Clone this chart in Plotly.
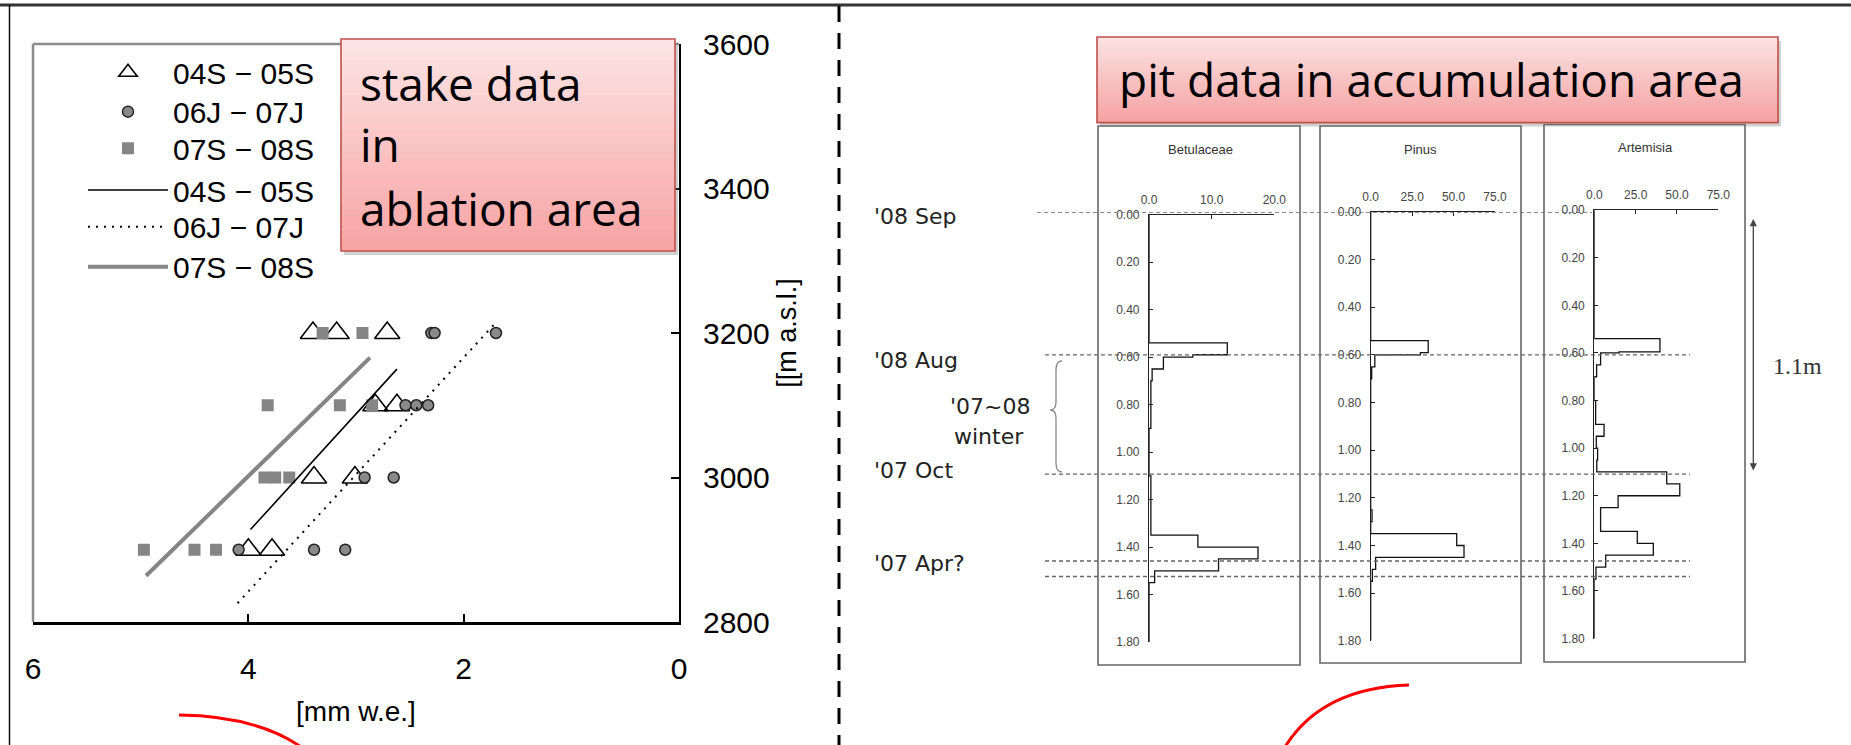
import plotly.graph_objects as go

W, H = 1851, 745

# ---------------- stake data, ablation area ----------------
# mass balance [mm w.e.] vs. elevation [m a.s.l.]
tri_mass = [3.40, 3.18, 2.71, 2.82, 2.62, 3.39, 3.01, 4.00, 3.78]
tri_elev = [3200, 3200, 3200, 3100, 3100, 3000, 3000, 2900, 2900]
circ_mass = [2.30, 2.27, 1.70, 2.54, 2.44, 2.33, 2.92, 2.65, 4.09, 3.39, 3.10]
circ_elev = [3200, 3200, 3200, 3100, 3100, 3100, 3000, 3000, 2900, 2900, 2900]
sq_mass = [3.31, 2.94, 3.82, 3.15, 2.85, 3.85, 3.75, 3.62, 4.97, 4.50, 4.30]
sq_elev = [3200, 3200, 3100, 3100, 3100, 3000, 3000, 3000, 2900, 2900, 2900]

# fitted lines (end points)
fit_0405_mass = [3.98, 2.62]
fit_0405_elev = [2928, 3150]
fit_0607_mass = [4.10, 1.71]
fit_0607_elev = [2826, 3213]
fit_0708_mass = [4.95, 2.87]
fit_0708_elev = [2864, 3166]

period_names = ["04S \u2212 05S", "06J \u2212 07J", "07S \u2212 08S"]
mass_ticks = [6, 4, 2, 0]
elev_ticks = [2800, 3000, 3200, 3400, 3600]

# ---------------- pit data, accumulation area ----------------
# pollen concentration per depth interval (top of interval [m], value)
betula_depth = [0.00, 0.54, 0.59, 0.60, 0.65, 0.70, 0.90, 1.10, 1.15, 1.35, 1.40, 1.45, 1.50, 1.55]
betula_val = [0, 12.5, 7.0, 2.3, 0.5, 0.3, 0, 0.3, 0.3, 7.8, 17.4, 11.1, 0.9, 0]
pinus_depth = [0.00, 0.54, 0.59, 0.60, 0.65, 0.70, 1.25, 1.30, 1.35, 1.40, 1.45, 1.50, 1.55]
pinus_val = [0, 34.7, 30.0, 2.5, 0.6, 0, 0.8, 0, 51.9, 56.3, 3.0, 1.0, 0]
artem_depth = [0.00, 0.54, 0.595, 0.60, 0.65, 0.70, 0.80, 0.90, 0.95, 1.00, 1.05, 1.10,
               1.15, 1.20, 1.25, 1.35, 1.40, 1.45, 1.50, 1.55]
artem_val = [0, 39.7, 15.0, 3.8, 1.4, 0, 0.8, 5.9, 1.2, 2.0, 1.5, 43.8,
             51.7, 14.4, 3.8, 26.0, 35.7, 6.9, 1.0, 0]
depth_bottom = 1.80
depth_ticks = [0.0, 0.2, 0.4, 0.6, 0.8, 1.0, 1.2, 1.4, 1.6, 1.8]
betula_ticks = [0, 10, 20]
wide_ticks = [0, 25, 50, 75]

# horizons marked across the profiles
horizon_depths = [0.00, 0.60, 1.10, 1.465, 1.53]
horizon_labels = ["'08 Sep", "'08 Aug", "'07 Oct", "'07 Apr?"]


def fx(p):
    return p / W


def fy(p):
    return 1 - p / H


def ppath(points, cmds):
    out = []
    for c, pts in zip(cmds, points):
        out.append(c + " ".join(f"{fx(x):.5f},{fy(y):.5f}" for x, y in pts))
    return " ".join(out)


AX_FONT = "Liberation Sans, Arial, sans-serif"
SMALL_FONT = "Liberation Sans Narrow, Liberation Sans, Arial, sans-serif"

fig = go.Figure()

# scatter markers
fig.add_trace(go.Scatter(
    x=tri_mass, y=tri_elev, mode="markers", name=period_names[0], legend="legend",
    marker=dict(symbol="triangle-up-open", size=22, color="black", line=dict(width=1.6, color="black")),
    xaxis="x", yaxis="y", cliponaxis=False))
fig.add_trace(go.Scatter(
    x=circ_mass, y=circ_elev, mode="markers", name=period_names[1], legend="legend2",
    marker=dict(symbol="circle", size=11, color="#8a8a8a", line=dict(width=1.5, color="#222")),
    xaxis="x", yaxis="y", cliponaxis=False))
fig.add_trace(go.Scatter(
    x=sq_mass, y=sq_elev, mode="markers", name=period_names[2], legend="legend3",
    marker=dict(symbol="square", size=12, color="#858585", line=dict(width=0)),
    xaxis="x", yaxis="y", cliponaxis=False))
# fitted lines
fig.add_trace(go.Scatter(
    x=fit_0405_mass, y=fit_0405_elev, mode="lines", name=period_names[0], legend="legend4",
    line=dict(color="black", width=1.6), xaxis="x", yaxis="y"))
fig.add_trace(go.Scatter(
    x=fit_0607_mass, y=fit_0607_elev, mode="lines", name=period_names[1], legend="legend5",
    line=dict(color="black", width=2, dash="2px,6px"), xaxis="x", yaxis="y"))
fig.add_trace(go.Scatter(
    x=fit_0708_mass, y=fit_0708_elev, mode="lines", name=period_names[2], legend="legend6",
    line=dict(color="#858585", width=4), xaxis="x", yaxis="y"))

# pollen profiles (step lines)
for depth, val, xa, ya in [(betula_depth, betula_val, "x2", "y2"),
                           (pinus_depth, pinus_val, "x3", "y3"),
                           (artem_depth, artem_val, "x4", "y4")]:
    fig.add_trace(go.Scatter(
        x=val + [val[-1]], y=depth + [depth_bottom], mode="lines",
        line=dict(color="#111", width=1.3, shape="vh"),
        xaxis=xa, yaxis=ya, showlegend=False, cliponaxis=False, hoverinfo="skip"))

small_tick_font = dict(family=SMALL_FONT, size=12, color="#444")
prof_x = dict(side="top", ticks="inside", ticklen=4, tickcolor="#222", showline=True,
              linecolor="#222", linewidth=1.2, showgrid=False, zeroline=False, automargin=False,
              tickformat=".1f", tickfont=small_tick_font, ticklabelstandoff=5)
prof_y = dict(range=[depth_bottom, 0], tickvals=depth_ticks, tickformat=".2f", ticks="inside",
              ticklen=4, tickcolor="#222", showline=True, linecolor="#222", linewidth=1.2,
              showgrid=False, zeroline=False, automargin=False, tickfont=small_tick_font,
              ticklabelstandoff=6)

legend_rows = [72.3, 111.7, 148.3, 190, 226.7, 266.7]
legends = {}
for i, yc in enumerate(legend_rows):
    key = "legend" if i == 0 else f"legend{i + 1}"
    legends[key] = dict(x=fx(83), y=fy(yc), xanchor="left", yanchor="middle",
                        bgcolor="rgba(0,0,0,0)", font=dict(family=AX_FONT, size=30, color="black"),
                        itemwidth=80, itemsizing="trace")

fig.update_layout(
    width=W, height=H, margin=dict(l=0, r=0, t=0, b=0, autoexpand=False),
    paper_bgcolor="white", plot_bgcolor="white",
    xaxis=dict(domain=[fx(33), fx(679)], range=[6, 0], anchor="y", tickvals=mass_ticks,
               ticks="inside", ticklen=8, tickcolor="black", tickwidth=1.5, automargin=False,
               showline=True, linecolor="black", linewidth=3, showgrid=False, zeroline=False,
               tickfont=dict(family=AX_FONT, size=30, color="black"), ticklabelstandoff=18,
               title=dict(text="[mm w.e.]", font=dict(family=AX_FONT, size=28, color="black"),
                          standoff=18)),
    yaxis=dict(domain=[fy(622), fy(44)], range=[2800, 3600], anchor="x", side="right",
               tickvals=elev_ticks, ticks="inside", ticklen=8, tickcolor="black", tickwidth=1.5,
               showline=True, linecolor="black", linewidth=2, showgrid=False, zeroline=False,
               automargin=False,
               tickfont=dict(family=AX_FONT, size=30, color="black"), ticklabelstandoff=16,
               title=dict(text="[[m a.s.l.]", font=dict(family=AX_FONT, size=27, color="black"),
                          standoff=8)),
    xaxis2=dict(prof_x, domain=[fx(1149), fx(1274.3)], range=[0, 20], tickvals=betula_ticks, anchor="y2"),
    yaxis2=dict(prof_y, domain=[fy(642), fy(214.7)], anchor="x2"),
    xaxis3=dict(prof_x, domain=[fx(1370.7), fx(1495)], range=[0, 75], tickvals=wide_ticks, anchor="y3"),
    yaxis3=dict(prof_y, domain=[fy(640.8), fy(212)], anchor="x3"),
    xaxis4=dict(prof_x, domain=[fx(1594.3), fx(1718.3)], range=[0, 75], tickvals=wide_ticks, anchor="y4"),
    yaxis4=dict(prof_y, domain=[fy(638.5), fy(210.2)], anchor="x4"),
    **legends,
)

shapes = []
# outer slide frame and divider
shapes.append(dict(type="line", xref="paper", yref="paper", x0=0, x1=1, y0=fy(5), y1=fy(5),
                   line=dict(color="#333", width=3)))
shapes.append(dict(type="line", xref="paper", yref="paper", x0=fx(9.5), x1=fx(9.5), y0=fy(5), y1=0,
                   line=dict(color="#111", width=1.5)))
shapes.append(dict(type="line", xref="paper", yref="paper", x0=fx(839), x1=fx(839), y0=fy(6), y1=0,
                   line=dict(color="black", width=3, dash="16px,11px")))

# gray top/left frame of the stake plot
shapes.append(dict(type="line", xref="x domain", yref="y domain", x0=0, x1=1, y0=1, y1=1,
                   line=dict(color="#8c8c8c", width=2.5)))
shapes.append(dict(type="line", xref="x domain", yref="y domain", x0=0, x1=0, y0=0, y1=1,
                   line=dict(color="#8c8c8c", width=2.5)))

# panel frames of the pit profiles
for x0, y0, x1, y1 in [(1098, 126, 1300, 665), (1320, 126, 1521, 663), (1544, 124.5, 1745, 662)]:
    shapes.append(dict(type="rect", xref="paper", yref="paper", x0=fx(x0), x1=fx(x1), y0=fy(y1), y1=fy(y0),
                       line=dict(color="#666", width=1.6), fillcolor="rgba(0,0,0,0)", layer="below"))

# horizon dashed lines, on the depth scale
horizon_x = [(1037, 1592), (1045, 1690), (1045, 1690), (1045, 1690), (1045, 1690)]
for d, (xa, xb) in zip(horizon_depths, horizon_x):
    shapes.append(dict(type="line", xref="paper", yref="y3", x0=fx(xa), x1=fx(xb), y0=d, y1=d,
                       line=dict(color="#666", width=1.3, dash="4px,3px"), layer="above"))

# brace for the winter layer
brace = ppath([[(1062, 361)], [(1056, 361), (1056, 370)], [(1056, 402)], [(1056, 410), (1050, 410)],
               [(1056, 410), (1056, 418)], [(1056, 463)], [(1056, 472), (1062, 472)]],
              ["M", "Q", "L", "Q", "Q", "L", "Q"])
shapes.append(dict(type="path", xref="paper", yref="paper", path=brace,
                   line=dict(color="#888", width=1.3)))

# red connector curves at the bottom
for pts in ([[(179, 715)], [(262, 716), (308, 752)]], [[(1409, 685)], [(1318, 688), (1282, 752)]]):
    shapes.append(dict(type="path", xref="paper", yref="paper", path=ppath(pts, ["M", "Q"]),
                       line=dict(color="#ff0000", width=3)))


def gradient_box(x0, y0, x1, y1, top_rgb, bot_rgb, n=30):
    out = [dict(type="rect", xref="paper", yref="paper", x0=fx(x0 + 3), x1=fx(x1 + 3),
                y0=fy(y1 + 4), y1=fy(y0 + 4), line=dict(width=0),
                fillcolor="rgba(120,120,120,0.35)")]
    for i in range(n):
        t = i / (n - 1)
        c = tuple(round(a + (b - a) * t) for a, b in zip(top_rgb, bot_rgb))
        ya = y0 + (y1 - y0) * i / n
        yb = y0 + (y1 - y0) * (i + 1) / n
        out.append(dict(type="rect", xref="paper", yref="paper", x0=fx(x0), x1=fx(x1),
                        y0=fy(yb), y1=fy(ya) + 0.0005, line=dict(width=0),
                        fillcolor=f"rgb{c}"))
    out.append(dict(type="rect", xref="paper", yref="paper", x0=fx(x0), x1=fx(x1), y0=fy(y1), y1=fy(y0),
                    line=dict(color="#c0504d", width=1.6), fillcolor="rgba(0,0,0,0)"))
    return out


shapes += gradient_box(341, 39, 675, 251, (253, 228, 228), (248, 164, 164))
shapes += gradient_box(1097, 37, 1778, 122.6, (253, 226, 226), (246, 162, 162))
fig.update_layout(shapes=shapes)

ann = []
BOX_FONT = "Open Sans, Lato, sans-serif"
for txt, yc in [("stake data", 83), ("in", 144.5), ("ablation area", 208)]:
    ann.append(dict(text=txt, x=fx(358), y=fy(yc), xref="paper", yref="paper", xanchor="left",
                    yanchor="middle", showarrow=False, font=dict(family=BOX_FONT, size=46, color="black")))
ann.append(dict(text="pit data in accumulation area", x=fx(1431), y=fy(79), xref="paper", yref="paper",
                xanchor="center", yanchor="middle", showarrow=False,
                font=dict(family=BOX_FONT, size=46, color="black")))

for name, xc, yc in [("Betulaceae", 1200, 150), ("Pinus", 1420, 150), ("Artemisia", 1645, 147)]:
    ann.append(dict(text=name, x=fx(xc), y=fy(yc), xref="paper", yref="paper", xanchor="center",
                    yanchor="middle", showarrow=False, font=dict(family=AX_FONT, size=13, color="#333")))

LABEL_FONT = dict(family="DejaVu Sans, sans-serif", size=22, color="#222")
for txt, yc in zip(horizon_labels, [216, 360, 470, 563]):
    ann.append(dict(text=txt, x=fx(872), y=fy(yc), xref="paper", yref="paper", xanchor="left",
                    yanchor="middle", showarrow=False, font=LABEL_FONT))
ann.append(dict(text="'07~08", x=fx(948), y=fy(406), xref="paper", yref="paper", xanchor="left",
                yanchor="middle", showarrow=False, font=LABEL_FONT))
ann.append(dict(text="winter", x=fx(952), y=fy(436), xref="paper", yref="paper", xanchor="left",
                yanchor="middle", showarrow=False, font=LABEL_FONT))

# 1.1 m span arrow
ann.append(dict(text="", x=fx(1753.3), y=fy(219), xref="paper", yref="paper", ax=0, ay=253,
                showarrow=True, arrowhead=2, arrowside="end+start", arrowsize=1.1,
                arrowwidth=1.3, arrowcolor="#444"))
ann.append(dict(text="1.1m", x=fx(1771), y=fy(366), xref="paper", yref="paper", xanchor="left",
                yanchor="middle", showarrow=False,
                font=dict(family="Liberation Serif, serif", size=24, color="#333")))
fig.update_layout(annotations=ann)

fig.write_html("out.html")
